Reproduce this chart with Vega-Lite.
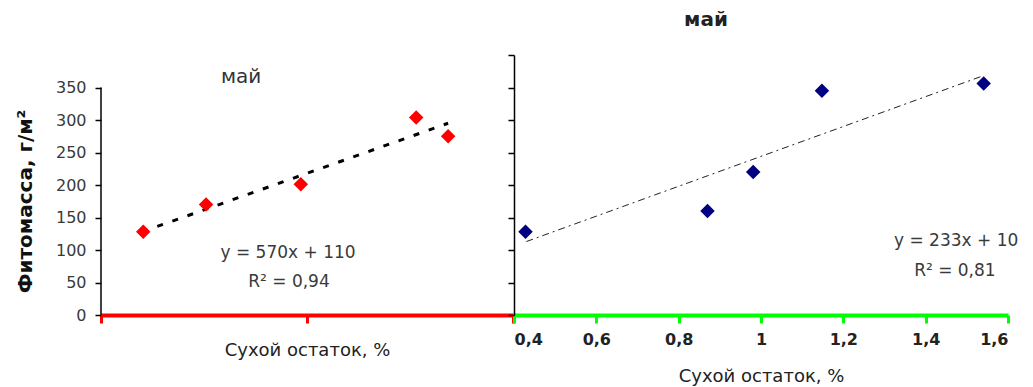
{
  "$schema": "https://vega.github.io/schema/vega-lite/v6.json",
  "padding": {"left": 15, "top": 10, "right": 10, "bottom": 5},
  "background": "white",
  "spacing": 1,
  "bounds": "flush",
  "config": {
    "view": {"stroke": null},
    "font": "DejaVu Sans",
    "axis": {"labelFont": "DejaVu Sans", "titleFont": "DejaVu Sans", "grid": false}
  },
  "datasets": {
    "left": [
      {"x": 0.041, "y": 128},
      {"x": 0.102, "y": 170},
      {"x": 0.194, "y": 201},
      {"x": 0.306, "y": 304},
      {"x": 0.337, "y": 275}
    ],
    "leftTrend": [
      {"x": 0.04, "y": 128},
      {"x": 0.337, "y": 295}
    ],
    "leftAxisLine": [{"x": 0, "y": 0, "y2": 350}],
    "leftNotes": [
      {"x": 0.1816, "y": 95, "label": "y = 570x + 110"},
      {"x": 0.1825, "y": 51, "label": "R² = 0,94"}
    ],
    "leftTitle": [{"x": 0.136, "y": 366, "label": "май"}],
    "right": [
      {"x": 0.428, "y": 128},
      {"x": 0.87, "y": 160},
      {"x": 0.981, "y": 220},
      {"x": 1.148, "y": 345},
      {"x": 1.541, "y": 356}
    ],
    "rightTrend": [
      {"x": 0.43, "y": 113},
      {"x": 1.535, "y": 367}
    ],
    "rightNotes": [
      {"x": 1.474, "y": 114, "label": "y = 233x + 10"},
      {"x": 1.471, "y": 68, "label": "R² = 0,81"}
    ]
  },
  "hconcat": [
    {
      "width": 412,
      "height": 260,
      "encoding": {
        "x": {
          "field": "x", "type": "quantitative",
          "scale": {"domain": [0, 0.4], "nice": false, "zero": false},
          "axis": {
            "values": [0, 0.2, 0.4], "labels": false,
            "domainColor": "#ff0000", "domainWidth": 4,
            "tickColor": "#ff0000", "tickWidth": 3, "tickSize": 8,
            "title": "Сухой остаток, %", "titleFontSize": 18, "titleFontWeight": "normal",
            "titleColor": "#222", "titlePadding": 17
          }
        },
        "y": {
          "field": "y", "type": "quantitative",
          "scale": {"domain": [0, 400], "nice": false},
          "axis": {
            "values": [0, 50, 100, 150, 200, 250, 300, 350],
            "domain": false, "tickColor": "#000", "tickSize": 6, "tickWidth": 1.5,
            "labelFontSize": 16, "labelColor": "#3a3a3a", "labelPadding": 9,
            "title": "Фитомасса, г/м²", "titleFontSize": 20, "titleFontWeight": "bold",
            "titleColor": "#111", "titleX": -76, "titleY": 146, "titleBaseline": "middle"
          }
        }
      },
      "layer": [
        {
          "data": {"name": "leftAxisLine"},
          "mark": {"type": "rule", "color": "#000", "strokeWidth": 1.5},
          "encoding": {"y2": {"field": "y2"}}
        },
        {
          "data": {"name": "leftTrend"},
          "mark": {"type": "line", "color": "#000", "strokeWidth": 3, "strokeDash": [6, 10]},
          "encoding": {}
        },
        {
          "data": {"name": "left"},
          "mark": {"type": "point", "shape": "diamond", "filled": true, "size": 210, "color": "#ff0000", "opacity": 1}
        },
        {
          "data": {"name": "leftNotes"},
          "mark": {"type": "text", "fontSize": 17, "color": "#3a3a3a", "align": "center", "baseline": "middle"},
          "encoding": {"text": {"field": "label"}}
        },
        {
          "data": {"name": "leftTitle"},
          "mark": {"type": "text", "fontSize": 20, "color": "#333", "align": "center", "baseline": "middle"},
          "encoding": {"text": {"field": "label"}}
        }
      ]
    },
    {
      "width": 494,
      "height": 260,
      "title": {"text": "май", "fontSize": 20, "fontWeight": "bold", "color": "#222", "dx": -55, "offset": 24, "font": "DejaVu Sans"},
      "encoding": {
        "x": {
          "field": "x", "type": "quantitative",
          "scale": {"domain": [0.4, 1.6], "nice": false, "zero": false},
          "axis": {
            "values": [0.4, 0.6, 0.8, 1.0, 1.2, 1.4, 1.6],
            "labelExpr": "replace(format(datum.value, '.1~f'), '.', ',')",
            "labelFontSize": 16, "labelFontWeight": "bold", "labelColor": "#222", "labelPadding": 8,
            "domainColor": "#00ff00", "domainWidth": 4,
            "tickColor": "#00ff00", "tickWidth": 3, "tickSize": 8,
            "title": "Сухой остаток, %", "titleFontSize": 18, "titleFontWeight": "normal",
            "titleColor": "#222", "titlePadding": 20
          }
        },
        "y": {
          "field": "y", "type": "quantitative",
          "scale": {"domain": [0, 400], "nice": false},
          "axis": {
            "values": [0, 50, 100, 150, 200, 250, 300, 350, 400],
            "labels": false, "title": null,
            "domainColor": "#000", "domainWidth": 1.5,
            "tickColor": "#000", "tickSize": 6, "tickWidth": 1.5
          }
        }
      },
      "layer": [
        {
          "data": {"name": "rightTrend"},
          "mark": {"type": "line", "color": "#222", "strokeWidth": 1, "strokeDash": [7, 4, 2, 4]},
          "encoding": {}
        },
        {
          "data": {"name": "right"},
          "mark": {"type": "point", "shape": "diamond", "filled": true, "size": 210, "color": "#000080", "opacity": 1}
        },
        {
          "data": {"name": "rightNotes"},
          "mark": {"type": "text", "fontSize": 17, "color": "#3a3a3a", "align": "center", "baseline": "middle"},
          "encoding": {"text": {"field": "label"}}
        }
      ]
    }
  ]
}
